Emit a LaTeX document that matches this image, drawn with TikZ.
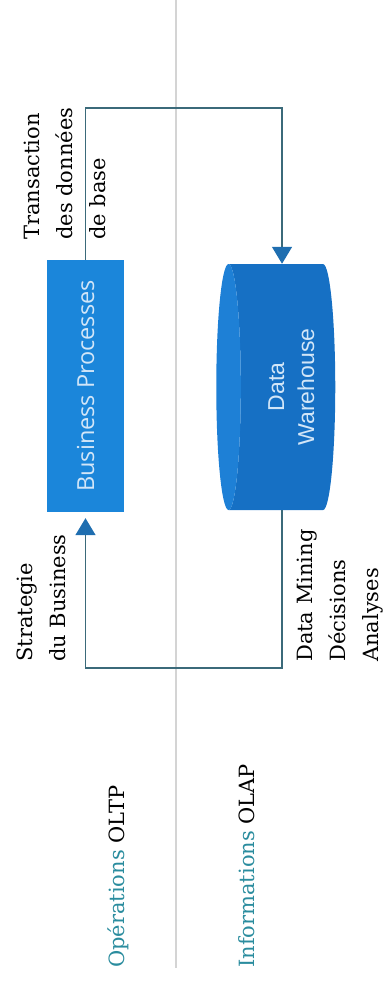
\documentclass[tikz,border=0pt]{standalone}
\usepackage{fontspec}
\setmainfont{DejaVu Serif}
\newfontfamily\procfont{Open Sans}
\newfontfamily\whfont{Liberation Sans}
\usetikzlibrary{arrows.meta,shapes.geometric}

\definecolor{procblue}{RGB}{27,134,218}
\definecolor{whbody}{RGB}{22,112,196}
\definecolor{whend}{RGB}{30,128,214}
\definecolor{flowcol}{RGB}{59,106,122}
\definecolor{tipblue}{RGB}{31,110,176}
\definecolor{lbteal}{RGB}{42,140,158}
\definecolor{divgray}{RGB}{212,212,212}
\definecolor{paletxt}{RGB}{210,230,248}

\newcommand{\vtext}[2][l]{\rotatebox{90}{\begin{tabular}{@{}#1@{}}#2\end{tabular}}}

\begin{document}
\begin{tikzpicture}[x=1pt, y=-1pt,
	lbl/.style={inner sep=0pt, font=\fontsize{21}{33}\selectfont},
	proc/.style={rectangle, fill=procblue, minimum width=77pt, minimum height=252pt, inner sep=0pt, text=paletxt, font=\procfont\fontsize{23.5}{28}\selectfont},
	wh/.style={cylinder, shape border rotate=180, aspect=0.21, cylinder uses custom fill, cylinder body fill=whbody, cylinder end fill=whend, minimum width=246pt, minimum height=103pt, inner sep=0pt, text=paletxt, font=\whfont\fontsize{23}{30}\selectfont},
	flow/.style={draw=flowcol, line width=1.5pt},
	flowtip/.style={-{Triangle[length=17pt, width=20pt, color=tipblue]}},
	divider/.style={draw=divgray, line width=2.5pt}]

\useasboundingbox (0,0) rectangle (385,985);

\draw[divider] (176,0) -- (176,968);

\node[proc] (proc) at (85.5,386) {\rotatebox{90}{Business Processes}};
\node[wh] (dw) at (282,387) {\hspace*{22pt}\vtext[c]{Data\\Warehouse}};

\node[lbl, anchor=south west] (trans) at (16,240) {\vtext{Transaction\\des données\\de base}};
\node[lbl, anchor=south west] (strat) at (9,662) {\vtext{Strategie\\du Business}};
\node[lbl, anchor=south west] (mining) at (289,662) {\vtext{Data Mining\\Décisions\\Analyses}};
\node[lbl, anchor=south west] (oltp) at (101,968) {\vtext{\textcolor{lbteal}{Opérations} OLTP}};
\node[lbl, anchor=south west] (olap) at (231,968) {\vtext{\textcolor{lbteal}{Informations} OLAP}};

\coordinate (uppath) at (176,108);
\coordinate (lowpath) at (176,668);

\draw[flow, flowtip] (proc.north) |- (uppath) -| (dw.north);
\draw[flow, flowtip, shorten >=6pt] (dw.south) |- (lowpath) -| (proc.south);

\end{tikzpicture}
\end{document}
